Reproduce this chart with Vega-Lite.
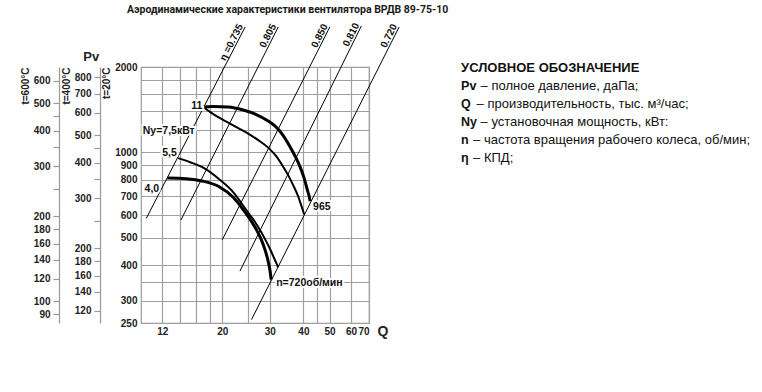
{
  "$schema": "https://vega.github.io/schema/vega-lite/v6.json",
  "width": 228,
  "height": 256,
  "padding": {"left": 20, "top": 4, "right": 4, "bottom": 4},
  "background": "white",
  "config": {
    "view": {"stroke": "#999999", "strokeWidth": 1.2},
    "font": "Liberation Sans"
  },
  "title": {
    "text": "Аэродинамические характеристики вентилятора ВРДВ 89-75-10",
    "anchor": "start",
    "frame": "group",
    "dx": -14,
    "font": "Roboto",
    "fontSize": 10.5,
    "fontWeight": "bold",
    "color": "#1a1a1a",
    "offset": 6
  },
  "datasets": {
    "eta": [
      {"line": "0.735", "label": "η =0.735", "end": "lo", "q": 10.46, "p": 585},
      {"line": "0.735", "label": "η =0.735", "end": "hi", "q": 24.32, "p": 2768},
      {"line": "0.805", "label": "0.805", "end": "lo", "q": 14.06, "p": 577},
      {"line": "0.805", "label": "0.805", "end": "hi", "q": 32.25, "p": 2768},
      {"line": "0.850", "label": "0.850", "end": "lo", "q": 20.0, "p": 491},
      {"line": "0.850", "label": "0.850", "end": "hi", "q": 50.1, "p": 2768},
      {"line": "0.810", "label": "0.810", "end": "lo", "q": 23.26, "p": 381},
      {"line": "0.810", "label": "0.810", "end": "hi", "q": 65.6, "p": 2792},
      {"line": "0.720", "label": "0.720", "end": "lo", "q": 25.68, "p": 257},
      {"line": "0.720", "label": "0.720", "end": "hi", "q": 90.5, "p": 2768}
    ],
    "curves": [
      {"curve": "A", "q": 17.01, "p": 1445}, {"curve": "A", "q": 18.52, "p": 1450}, {"curve": "A", "q": 21.05, "p": 1445},
      {"curve": "A", "q": 23.92, "p": 1410}, {"curve": "A", "q": 26.5, "p": 1364}, {"curve": "A", "q": 29.6, "p": 1289},
      {"curve": "A", "q": 31.42, "p": 1237}, {"curve": "A", "q": 33.37, "p": 1160}, {"curve": "A", "q": 35.41, "p": 1060},
      {"curve": "A", "q": 37.27, "p": 969}, {"curve": "A", "q": 38.9, "p": 887}, {"curve": "A", "q": 40.24, "p": 811},
      {"curve": "A", "q": 41.29, "p": 741}, {"curve": "A", "q": 42.0, "p": 700}, {"curve": "A", "q": 42.36, "p": 672},
      {"curve": "B", "q": 17.01, "p": 1445}, {"curve": "B", "q": 18.06, "p": 1387}, {"curve": "B", "q": 19.33, "p": 1331},
      {"curve": "B", "q": 21.05, "p": 1273}, {"curve": "B", "q": 22.93, "p": 1217}, {"curve": "B", "q": 24.96, "p": 1164},
      {"curve": "B", "q": 27.19, "p": 1104}, {"curve": "B", "q": 29.6, "p": 1039}, {"curve": "B", "q": 31.7, "p": 969},
      {"curve": "B", "q": 33.37, "p": 901}, {"curve": "B", "q": 35.11, "p": 831}, {"curve": "B", "q": 36.64, "p": 766},
      {"curve": "B", "q": 38.23, "p": 700}, {"curve": "B", "q": 39.23, "p": 651}, {"curve": "B", "q": 40.24, "p": 605},
      {"curve": "C", "q": 12.51, "p": 811}, {"curve": "C", "q": 14.72, "p": 807}, {"curve": "C", "q": 17.01, "p": 791},
      {"curve": "C", "q": 19.49, "p": 756}, {"curve": "C", "q": 21.96, "p": 694}, {"curve": "C", "q": 23.72, "p": 635},
      {"curve": "C", "q": 25.39, "p": 580}, {"curve": "C", "q": 26.73, "p": 535}, {"curve": "C", "q": 27.89, "p": 493},
      {"curve": "C", "q": 28.86, "p": 451}, {"curve": "C", "q": 29.6, "p": 413}, {"curve": "C", "q": 30.11, "p": 380},
      {"curve": "C", "q": 30.37, "p": 356},
      {"curve": "D", "q": 13.74, "p": 954}, {"curve": "D", "q": 15.22, "p": 923}, {"curve": "D", "q": 17.01, "p": 883},
      {"curve": "D", "q": 19.49, "p": 804}, {"curve": "D", "q": 22.15, "p": 717}, {"curve": "D", "q": 23.72, "p": 656},
      {"curve": "D", "q": 25.39, "p": 600}, {"curve": "D", "q": 26.5, "p": 567}, {"curve": "D", "q": 27.65, "p": 531},
      {"curve": "D", "q": 28.86, "p": 493}, {"curve": "D", "q": 30.11, "p": 455}, {"curve": "D", "q": 31.16, "p": 423},
      {"curve": "D", "q": 32.25, "p": 393}
    ],
    "notes": [
      {"label": "11", "q": 15.36, "p": 1460},
      {"label": "Ny=7,5кВт", "q": 10.15, "p": 1188},
      {"label": "5,5", "q": 11.99, "p": 993},
      {"label": "4,0", "q": 10.31, "p": 744},
      {"label": "965", "q": 43.45, "p": 640},
      {"label": "n=720об/мин", "q": 31.7, "p": 345}
    ],
    "legend": [
      {"row": 0, "key": "УСЛОВНОЕ ОБОЗНАЧЕНИЕ", "rest": ""},
      {"row": 1, "key": "Pv", "rest": "– полное давление, даПа;"},
      {"row": 2, "key": "Q", "rest": "– производительность, тыс. м³/час;"},
      {"row": 3, "key": "Ny", "rest": "– установочная мощность, кВт:"},
      {"row": 4, "key": "n", "rest": "– частота вращения рабочего колеса, об/мин;"},
      {"row": 5, "key": "η", "rest": "– КПД;"}
    ]
  },
  "resolve": {"scale": {"y": "independent"}},
  "layer": [
    {
      "layer": [
        {
          "data": {"name": "eta"},
          "mark": {"type": "line", "color": "#000000", "strokeWidth": 1, "clip": false},
          "encoding": {
            "x": {
              "field": "q", "type": "quantitative",
              "scale": {"type": "log", "domain": [10, 70]},
              "axis": {
                "title": "Q",
                "values": [12, 14, 16, 18, 20, 25, 30, 40, 45, 50, 60, 70],
                "format": "d",
                "labelExpr": "(datum.value == 14 || datum.value == 16 || datum.value == 18 || datum.value == 25 || datum.value == 45) ? '' : datum.label",
                "labelOverlap": false,
                "grid": true, "gridColor": "#a0a0a0", "gridWidth": 1.2,
                "ticks": false, "domain": false,
                "labelFont": "Liberation Sans", "labelFontWeight": "bold", "labelFontSize": 10, "labelColor": "#222222",
                "labelPadding": 3,
                "titleFont": "Liberation Sans", "titleFontWeight": "bold", "titleFontSize": 14, "titleColor": "#222222",
                "titleX": 236, "titleY": 8, "titleAlign": "left", "titleBaseline": "middle"
              }
            },
            "y": {
              "field": "p", "type": "quantitative",
              "scale": {"type": "log", "domain": [250, 2000]},
              "axis": {
                "orient": "left",
                "title": "t=20°C",
                "values": [250, 300, 350, 400, 500, 600, 700, 800, 900, 1000, 1200, 1400, 1600, 1800, 2000],
                "format": "d",
                "labelExpr": "(datum.value == 350 || (datum.value > 1100 && datum.value < 1900)) ? '' : datum.label",
                "labelOverlap": false,
                "grid": true, "gridColor": "#a0a0a0", "gridWidth": 1.2,
                "ticks": false, "domain": false,
                "labelFont": "Liberation Sans", "labelFontWeight": "bold", "labelFontSize": 10, "labelColor": "#222222",
                "labelPadding": 4,
                "titleFont": "Liberation Sans", "titleFontWeight": "bold", "titleFontSize": 10, "titleColor": "#222222",
                "titleAnchor": "end", "titlePadding": 3
              }
            },
            "detail": {"field": "line"}
          }
        },
        {
          "data": {"name": "eta"},
          "transform": [{"filter": "datum.end == 'hi'"}],
          "mark": {"type": "text", "angle": -63, "align": "right", "baseline": "bottom", "fontWeight": "bold", "fontSize": 10, "color": "#111111", "clip": false},
          "encoding": {
            "x": {"field": "q", "type": "quantitative", "scale": {"type": "log", "domain": [10, 70]}},
            "y": {"field": "p", "type": "quantitative", "scale": {"type": "log", "domain": [250, 2000]}},
            "text": {"field": "label"}
          }
        },
        {
          "data": {"name": "curves"},
          "transform": [{"filter": "datum.curve == 'B' || datum.curve == 'D'"}],
          "mark": {"type": "line", "color": "#000000", "strokeWidth": 2, "interpolate": "monotone", "clip": false},
          "encoding": {
            "x": {"field": "q", "type": "quantitative", "scale": {"type": "log", "domain": [10, 70]}},
            "y": {"field": "p", "type": "quantitative", "scale": {"type": "log", "domain": [250, 2000]}},
            "detail": {"field": "curve"}
          }
        },
        {
          "data": {"name": "curves"},
          "transform": [{"filter": "datum.curve == 'A' || datum.curve == 'C'"}],
          "mark": {"type": "line", "color": "#000000", "strokeWidth": 3, "interpolate": "monotone", "clip": false},
          "encoding": {
            "x": {"field": "q", "type": "quantitative", "scale": {"type": "log", "domain": [10, 70]}},
            "y": {"field": "p", "type": "quantitative", "scale": {"type": "log", "domain": [250, 2000]}},
            "detail": {"field": "curve"}
          }
        },
        {
          "data": {"name": "notes"},
          "mark": {"type": "text", "align": "left", "baseline": "middle", "fontWeight": "bold", "fontSize": 10.5, "fill": "#ffffff", "stroke": "#ffffff", "strokeWidth": 4, "clip": false},
          "encoding": {
            "x": {"field": "q", "type": "quantitative", "scale": {"type": "log", "domain": [10, 70]}},
            "y": {"field": "p", "type": "quantitative", "scale": {"type": "log", "domain": [250, 2000]}},
            "text": {"field": "label"}
          }
        },
        {
          "data": {"name": "notes"},
          "mark": {"type": "text", "align": "left", "baseline": "middle", "fontWeight": "bold", "fontSize": 10.5, "color": "#111111", "clip": false},
          "encoding": {
            "x": {"field": "q", "type": "quantitative", "scale": {"type": "log", "domain": [10, 70]}},
            "y": {"field": "p", "type": "quantitative", "scale": {"type": "log", "domain": [250, 2000]}},
            "text": {"field": "label"}
          }
        },
        {
          "data": {"values": [{"label": "Pv", "q": 6.11, "p": 2170}]},
          "mark": {"type": "text", "align": "left", "baseline": "middle", "fontWeight": "bold", "fontSize": 13, "color": "#222222", "clip": false},
          "encoding": {
            "x": {"field": "q", "type": "quantitative", "scale": {"type": "log", "domain": [10, 70]}},
            "y": {"field": "p", "type": "quantitative", "scale": {"type": "log", "domain": [250, 2000]}},
            "text": {"field": "label"}
          }
        }
      ]
    },
    {
      "data": {"values": [{"v": 300}]},
      "mark": {"type": "point", "opacity": 0},
      "encoding": {
        "y": {
          "field": "v", "type": "quantitative",
          "scale": {"type": "log", "domain": [108.8, 870.6]},
          "axis": {
            "orient": "left", "offset": 41,
            "title": "t=400°C",
            "values": [120, 140, 160, 180, 200, 250, 300, 350, 400, 450, 500, 600, 700, 800],
            "format": "d",
            "labelExpr": "(datum.value == 250 || datum.value == 350 || datum.value == 450) ? '' : datum.label",
            "labelOverlap": false,
            "grid": false,
            "ticks": true, "tickSize": 6, "tickColor": "#999999", "tickWidth": 1.2,
            "domain": true, "domainColor": "#999999", "domainWidth": 1.2,
            "labelFont": "Liberation Sans", "labelFontWeight": "bold", "labelFontSize": 10, "labelColor": "#222222",
            "labelPadding": 3,
            "titleFont": "Liberation Sans", "titleFontWeight": "bold", "titleFontSize": 10, "titleColor": "#222222",
            "titleAnchor": "end", "titlePadding": 3
          }
        }
      }
    },
    {
      "data": {"values": [{"v": 300}]},
      "mark": {"type": "point", "opacity": 0},
      "encoding": {
        "y": {
          "field": "v", "type": "quantitative",
          "scale": {"type": "log", "domain": [83.9, 671.2]},
          "axis": {
            "orient": "left", "offset": 82,
            "title": "t=600°C",
            "values": [90, 100, 120, 140, 160, 180, 200, 250, 300, 350, 400, 450, 500, 600],
            "format": "d",
            "labelExpr": "(datum.value == 250 || datum.value == 350 || datum.value == 450) ? '' : datum.label",
            "labelOverlap": false,
            "grid": false,
            "ticks": true, "tickSize": 6, "tickColor": "#999999", "tickWidth": 1.2,
            "domain": true, "domainColor": "#999999", "domainWidth": 1.2,
            "labelFont": "Liberation Sans", "labelFontWeight": "bold", "labelFontSize": 10, "labelColor": "#222222",
            "labelPadding": 3,
            "titleFont": "Liberation Sans", "titleFontWeight": "bold", "titleFontSize": 10, "titleColor": "#222222",
            "titleAnchor": "end", "titlePadding": 3
          }
        }
      }
    },
    {
      "data": {"name": "legend"},
      "layer": [
        {
          "transform": [{"filter": "datum.row == 0"}],
          "mark": {"type": "text", "align": "left", "baseline": "middle", "fontWeight": "bold", "fontSize": 13, "color": "#111111", "clip": false},
          "encoding": {
            "x": {"datum": 153.6, "type": "quantitative", "scale": {"type": "log", "domain": [10, 70]}},
            "y": {"field": "row", "type": "ordinal", "scale": {"type": "point", "range": [1, 91], "padding": 0}, "axis": null},
            "text": {"field": "key"}
          }
        },
        {
          "transform": [{"filter": "datum.row > 0"}],
          "mark": {"type": "text", "align": "left", "baseline": "middle", "fontWeight": "bold", "fontSize": 12.5, "color": "#111111", "clip": false},
          "encoding": {
            "x": {"datum": 153.6, "type": "quantitative", "scale": {"type": "log", "domain": [10, 70]}},
            "y": {"field": "row", "type": "ordinal", "scale": {"type": "point", "range": [1, 91], "padding": 0}, "axis": null},
            "text": {"field": "key"}
          }
        },
        {
          "transform": [{"filter": "datum.key == 'Pv' || datum.key == 'Ny'"}],
          "mark": {"type": "text", "align": "left", "baseline": "middle", "fontSize": 13, "color": "#111111", "dx": 19.5, "clip": false},
          "encoding": {
            "x": {"datum": 153.6, "type": "quantitative", "scale": {"type": "log", "domain": [10, 70]}},
            "y": {"field": "row", "type": "ordinal", "scale": {"type": "point", "range": [1, 91], "padding": 0}, "axis": null},
            "text": {"field": "rest"}
          }
        },
        {
          "transform": [{"filter": "datum.key == 'Q'"}],
          "mark": {"type": "text", "align": "left", "baseline": "middle", "fontSize": 13, "color": "#111111", "dx": 15.5, "clip": false},
          "encoding": {
            "x": {"datum": 153.6, "type": "quantitative", "scale": {"type": "log", "domain": [10, 70]}},
            "y": {"field": "row", "type": "ordinal", "scale": {"type": "point", "range": [1, 91], "padding": 0}, "axis": null},
            "text": {"field": "rest"}
          }
        },
        {
          "transform": [{"filter": "datum.key == 'n' || datum.key == 'η'"}],
          "mark": {"type": "text", "align": "left", "baseline": "middle", "fontSize": 13, "color": "#111111", "dx": 12, "clip": false},
          "encoding": {
            "x": {"datum": 153.6, "type": "quantitative", "scale": {"type": "log", "domain": [10, 70]}},
            "y": {"field": "row", "type": "ordinal", "scale": {"type": "point", "range": [1, 91], "padding": 0}, "axis": null},
            "text": {"field": "rest"}
          }
        }
      ]
    }
  ]
}
